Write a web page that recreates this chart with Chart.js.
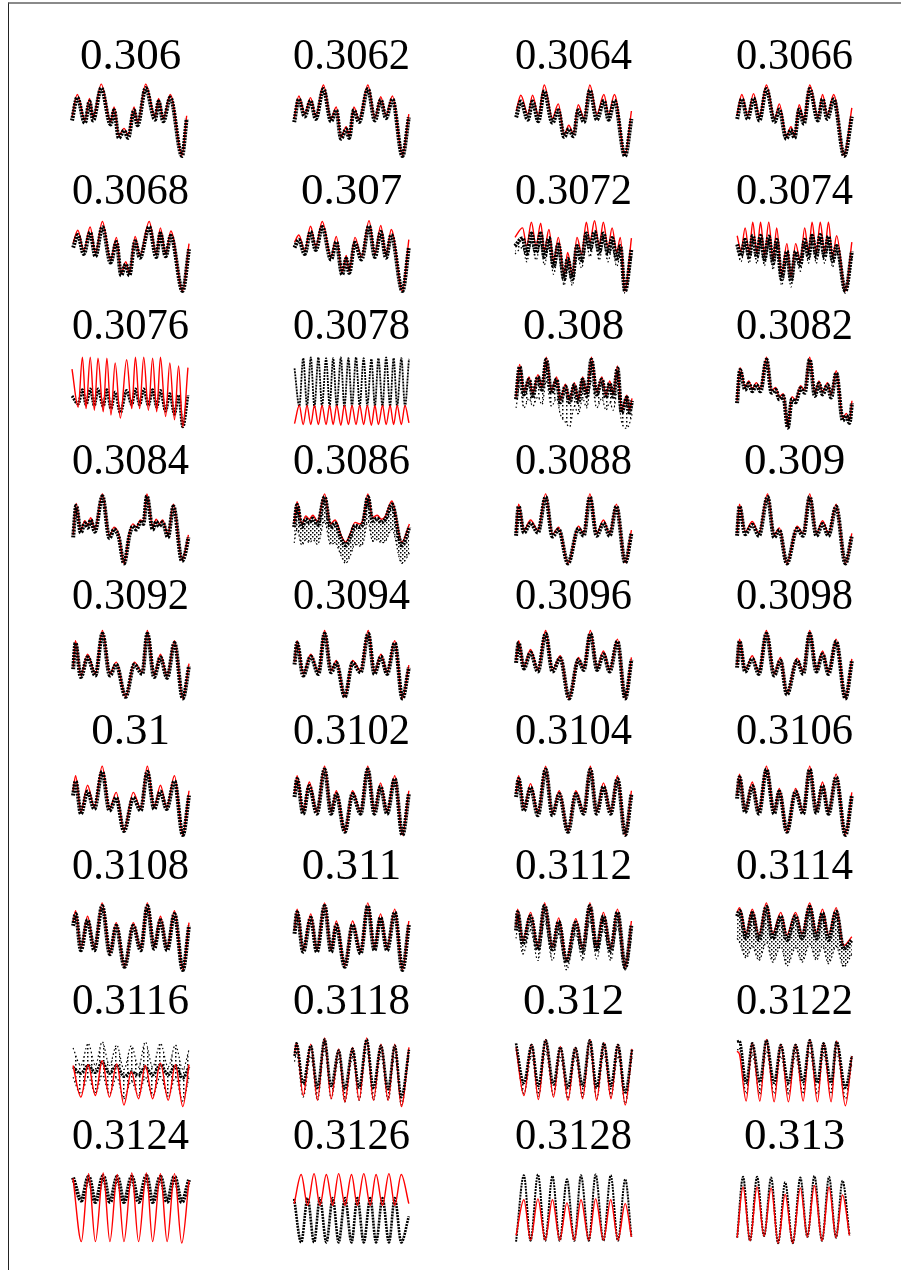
<!DOCTYPE html>
<html>
<head>
<meta charset="utf-8">
<script src="https://cdn.jsdelivr.net/npm/chart.js@4.4.1/dist/chart.umd.min.js"></script>
<style>
  html, body { margin: 0; padding: 0; background: #fff; }
  body { width: 901px; height: 1270px; position: relative; overflow: hidden; }
  #frame { position: absolute; left: 8px; top: 2px; right: 0; bottom: 0;
           border-left: 1px solid #222; border-top: 2px solid #8a8a8a; }
  canvas { position: absolute; }
</style>
</head>
<body>
<div id="frame"></div>
<script>
// Trial periods, one panel each (row by row)
const periods = ['0.306', '0.3062', '0.3064', '0.3066', '0.3068', '0.307', '0.3072', '0.3074',
  '0.3076', '0.3078', '0.308', '0.3082', '0.3084', '0.3086', '0.3088', '0.309',
  '0.3092', '0.3094', '0.3096', '0.3098', '0.31', '0.3102', '0.3104', '0.3106',
  '0.3108', '0.311', '0.3112', '0.3114', '0.3116', '0.3118', '0.312', '0.3122',
  '0.3124', '0.3126', '0.3128', '0.313'];

// phase_* : phase positions (0-100), model_* : fitted curve, flux_* : observed points,
// spread_* / upper_* : edges of the scattered observations
const phase_306 = [0, 4.5, 11, 15, 18, 25, 33, 36, 40, 44.5, 48, 53, 56, 63, 71, 74, 78, 84, 94, 98];
const model_306 = [54, 83, 50, 78, 53, 96, 48, 67, 31, 40, 31, 67, 47, 96, 54, 78, 52, 83, 6, 56];
const flux_306  = [50, 79, 47, 74, 50, 91, 45, 63, 28, 37, 28, 63, 44, 91, 51, 74, 49, 79, 5, 52];

const phase_3062 = [1, 5, 10, 15, 19.5, 26, 32.5, 37, 41, 45.5, 48, 52, 56.5, 64, 70, 75, 79.5, 85, 93.5, 99];
const model_3062 = [52, 81, 58, 79, 55, 95, 52, 67, 29, 42, 30, 67, 51, 95, 53, 80, 56, 81, 6, 58];
const flux_3062  = [48, 77, 55, 75, 52, 90, 49, 63, 27, 39, 28, 63, 48, 90, 50, 76, 53, 77, 5, 54];

const phase_3064 = [1, 5, 11, 15, 20, 25, 32, 37, 42, 46, 50, 54, 59, 64, 70, 76, 80, 85, 94, 99.5];
const model_3064 = [62, 82, 58, 82, 56, 95, 53, 71, 32, 44, 33, 70, 53, 95, 58, 83, 58, 83, 6, 62];
const flux_3064  = [54, 74, 51, 74, 49, 87, 47, 63, 29, 39, 30, 63, 48, 88, 51, 75, 51, 75, 5, 52];

const phase_3066 = [1, 5, 10, 15, 20, 26, 33, 37, 43, 47, 50, 54, 58, 63, 70, 74, 78, 83.5, 92.5, 99];
const model_3066 = [58, 83, 56, 84, 55, 95, 52, 71, 30, 42, 30, 70, 50, 95, 54, 83, 56, 83, 6, 66];
const flux_3066  = [52, 77, 52, 78, 50, 90, 48, 64, 27, 38, 28, 64, 46, 90, 50, 77, 52, 77, 5, 55];

const phase_3068 = [1, 5, 10, 15.5, 20, 26, 33, 38, 42, 46, 49, 54, 58, 66, 72, 75.5, 80, 84.5, 94.5, 100];
const model_3068 = [66, 82, 56, 86, 53, 93, 44, 73, 27, 42, 27, 74, 50, 93, 51, 85, 52, 81, 5, 65];
const flux_3068  = [60, 76, 52, 79, 49, 86, 41, 67, 25, 39, 25, 68, 47, 86, 48, 78, 49, 75, 5, 58];

const phase_307 = [1.3, 5, 10, 15, 19.5, 25, 32.5, 37, 42, 45.5, 48, 53, 58.5, 65, 70, 75, 79.5, 84, 93.5, 99];
const model_307 = [67, 76, 56, 87, 62, 93, 48, 74, 28, 50, 30, 73, 48, 94, 52, 88, 50, 83, 5, 70];
const flux_307  = [60, 70, 52, 80, 57, 86, 45, 67, 26, 46, 28, 66, 45, 87, 48, 80, 47, 76, 5, 60];

const phase_3072  = [0, 6.5, 10, 14, 18, 22, 25, 29, 33, 37, 42, 45, 49, 53, 57, 61, 64, 68, 72, 75.5, 79.5, 83, 87, 90, 94, 99.5];
const model_3072  = [73, 85, 62, 92, 62, 91, 56, 83, 42, 73, 25, 54, 25, 73, 52, 92, 67, 94, 62, 92, 60, 85, 54, 73, 5, 72];
const flux_3072   = [62, 72, 52, 78, 54, 78, 48, 72, 36, 64, 20, 46, 20, 62, 44, 78, 58, 80, 54, 78, 52, 72, 46, 62, 5, 58];
const spread_3072 = [52, 60, 42, 66, 44, 66, 38, 60, 26, 52, 12, 36, 12, 50, 34, 66, 48, 68, 44, 66, 42, 60, 36, 50, 2, 48];

const phase_3074  = [1, 4.3, 7.8, 11.3, 14.3, 17.8, 21, 24.3, 28, 31.7, 34.8, 39, 43.5, 47, 51, 55, 58.7, 62, 65, 68.7, 72, 75.7, 79, 82.6, 86, 93.5, 99];
const model_3074  = [75, 56, 85, 53, 92, 53, 92, 50, 92, 44, 85, 25, 65, 23, 65, 42, 85, 53, 92, 53, 92, 53, 92, 48, 75, 5, 67];
const flux_3074   = [64, 50, 70, 48, 75, 48, 75, 45, 74, 40, 70, 20, 55, 18, 55, 38, 70, 48, 75, 48, 76, 48, 74, 43, 62, 5, 55];
const spread_3074 = [56, 42, 62, 40, 67, 40, 67, 37, 66, 32, 62, 12, 47, 10, 47, 30, 62, 40, 67, 40, 68, 40, 66, 35, 54, 2, 47];

const phase_3076 = [0, 5.3, 8.9, 12, 15.6, 19.1, 22.2, 26.7, 29.8, 33.3, 36.9, 41.3, 46.7, 51.1, 54.2, 57.8, 61.3, 65.3, 68.9, 72.4, 75.6, 80, 83.6, 87.6, 91.1, 94.7, 99.1];
const model_3076 = [77, 29, 92, 27, 92, 25, 91, 23, 91, 19, 85, 15, 89, 27, 92, 27, 92, 25, 91, 23, 92, 17, 85, 13, 81, 4, 79];
const flux_3076  = [43, 33, 51, 32, 52, 31, 52, 30, 51, 27, 48, 22, 50, 32, 52, 32, 52, 31, 51, 29, 50, 24, 46, 20, 44, 4, 44];

const phase_3078 = [1.3, 5.4, 8.7, 12, 15.2, 18.3, 21.7, 24.8, 28.3, 31.3, 34.3, 37.4, 40.9, 43.9, 47.4, 50.4, 53.9, 57, 60.4, 63.5, 67, 70, 73, 76.5, 79.6, 83, 86, 89, 92.6, 95.7, 99.1];
const model_3078 = [8, 31, 7, 31, 7, 31, 7, 31, 7, 31, 7, 31, 6, 31, 7, 31, 7, 31, 7, 31, 6, 31, 7, 31, 7, 31, 7, 31, 7, 31, 9];
const flux_3078  = [78, 30, 91, 30, 92, 29, 92, 30, 91, 30, 91, 30, 92, 29, 91, 30, 92, 30, 91, 31, 90, 30, 91, 30, 92, 30, 91, 30, 91, 30, 90];

const phase_308  = [0.9, 4, 7.6, 12, 15.1, 19.6, 23.1, 26.7, 31.1, 35.6, 38.7, 43.1, 46.7, 50.7, 54.2, 57.8, 61.3, 65.3, 69.8, 74.2, 77.8, 80.9, 84, 87.6, 91.1, 95.6, 97.8, 100];
const model_308  = [42, 83, 48, 67, 46, 70, 54, 92, 50, 67, 38, 58, 38, 60, 38, 67, 46, 92, 48, 67, 44, 62, 45, 81, 25, 44, 25, 40];
const flux_308   = [39, 80, 45, 64, 43, 67, 51, 89, 47, 64, 35, 55, 35, 57, 35, 64, 43, 89, 45, 64, 41, 59, 42, 78, 22, 41, 22, 37];
const spread_308 = [28, 55, 28, 40, 30, 42, 32, 62, 30, 40, 20, 10, 4, 30, 20, 40, 28, 62, 28, 40, 25, 35, 25, 50, 10, 2, 8, 20];

const phase_3082 = [0.9, 3.5, 7.8, 10.9, 13.9, 17.4, 20.9, 26.1, 30.4, 33.9, 37, 40.4, 44.3, 47.8, 50.9, 55.2, 58.7, 63, 67.4, 70.9, 73.9, 78.3, 81.3, 85.7, 91.3, 94.3, 97, 99.1];
const model_3082 = [37, 79, 54, 62, 52, 60, 52, 92, 50, 54, 42, 46, 4, 42, 38, 56, 50, 92, 46, 62, 48, 60, 44, 75, 15, 21, 12, 37];
const flux_3082  = [34, 76, 51, 59, 49, 57, 49, 89, 47, 51, 39, 43, 3, 39, 35, 53, 47, 89, 43, 59, 45, 57, 41, 72, 12, 18, 9, 34];

const phase_3084 = [1, 3.6, 7.5, 11, 13.5, 16, 19.5, 26, 32, 36, 40, 44.5, 49, 52, 55, 58.5, 61, 64, 69, 72, 74.5, 77.5, 82, 86.7, 94, 96.5, 99.5];
const model_3084 = [38, 78, 44, 56, 50, 60, 45, 90, 37, 48, 38, 2, 40, 52, 48, 57, 55, 90, 48, 58, 52, 57, 38, 77, 6, 16, 38];
const flux_3084  = [35, 75, 41, 53, 47, 57, 42, 87, 34, 45, 35, 2, 37, 49, 45, 54, 52, 87, 45, 55, 49, 54, 35, 74, 5, 13, 35];

const phase_3086  = [1, 3.5, 7.5, 11, 14, 17, 21, 27, 32, 36, 41, 45, 49, 53, 57, 60, 64, 68, 72, 75.5, 79, 84.5, 93, 99.5];
const model_3086  = [52, 80, 52, 62, 58, 63, 55, 90, 52, 57, 38, 29, 40, 54, 52, 58, 90, 60, 63, 58, 62, 81, 29, 52];
const flux_3086   = [48, 76, 48, 58, 54, 59, 51, 86, 48, 53, 34, 25, 36, 50, 48, 54, 86, 56, 59, 54, 58, 77, 25, 48];
const spread_3086 = [28, 45, 25, 32, 28, 32, 26, 55, 26, 28, 12, 2, 12, 26, 24, 28, 55, 30, 32, 28, 30, 45, 2, 15];

const phase_3088 = [0.9, 3.1, 7.6, 13.3, 19.6, 26.2, 32, 37.3, 45.3, 54.2, 58.7, 64, 69.8, 75.6, 80.9, 86.7, 94.2, 99.5];
const model_3088 = [40, 77, 44, 57, 44, 90, 39, 48, 2, 49, 40, 90, 40, 57, 40, 77, 3, 44];
const flux_3088  = [37, 74, 41, 53, 41, 86, 36, 45, 2, 46, 37, 86, 37, 53, 37, 74, 3, 40];

const phase_309 = [0.9, 3, 7.8, 13.9, 19.6, 27, 32.6, 37, 43.5, 52.2, 57.4, 63, 68.7, 74, 79, 85.6, 93.5, 99];
const model_309 = [40, 77, 42, 55, 40, 90, 38, 47, 2, 49, 40, 90, 40, 56, 40, 77, 2, 40];
const flux_309  = [37, 74, 39, 51, 37, 86, 35, 44, 2, 46, 37, 86, 37, 52, 37, 74, 2, 37];

const phase_3092 = [1, 3, 7.5, 13.3, 20, 26, 32.4, 37.8, 45.8, 53.3, 60, 64.4, 70.2, 75.6, 81.3, 87.6, 94.7, 100];
const model_3092 = [42, 75, 31, 58, 33, 88, 33, 48, 4, 48, 35, 88, 31, 58, 30, 75, 2, 46];
const flux_3092  = [39, 72, 29, 54, 31, 84, 31, 45, 4, 45, 33, 84, 29, 54, 28, 72, 2, 43];

const phase_3094 = [1.3, 3.5, 8.7, 15.2, 21.7, 27, 32.6, 37, 44.3, 50.9, 57.8, 64.3, 69.6, 75.2, 80.4, 87, 93.5, 99];
const model_3094 = [48, 75, 33, 58, 35, 88, 37, 50, 4, 50, 37, 88, 35, 58, 35, 75, 2, 44];
const flux_3094  = [45, 72, 31, 55, 33, 84, 35, 47, 4, 47, 35, 84, 33, 55, 33, 72, 2, 41];

const phase_3096 = [0.9, 3.1, 7.6, 13.3, 19.6, 26.2, 32, 38.7, 46.2, 54.2, 58.7, 64.4, 70.2, 75.6, 80.9, 87.6, 94.2, 99.5];
const model_3096 = [50, 75, 42, 64, 38, 88, 38, 56, 2, 54, 40, 88, 40, 62, 38, 77, 2, 54];
const flux_3096  = [47, 72, 40, 60, 36, 84, 36, 53, 2, 51, 38, 84, 38, 58, 36, 74, 2, 51];

const phase_3098 = [0.9, 3, 7.8, 13.9, 19.6, 26, 32.6, 38, 43.5, 52.2, 57.4, 63, 68.7, 74, 79, 85.6, 93.5, 99];
const model_3098 = [44, 77, 38, 56, 35, 88, 33, 54, 8, 53, 35, 88, 38, 62, 35, 77, 2, 52];
const flux_3098  = [41, 74, 36, 52, 33, 84, 31, 50, 7, 50, 33, 84, 36, 58, 33, 74, 2, 49];

const phase_310 = [0.9, 3.1, 7.6, 13.3, 19.1, 25.8, 32, 37.8, 44.4, 52.4, 58.7, 64.4, 70.2, 75.6, 80.9, 87.6, 94.7, 100];
const model_310 = [56, 75, 29, 63, 35, 87, 33, 54, 6, 54, 33, 87, 35, 63, 35, 75, 0, 56];
const flux_310  = [50, 68, 27, 55, 33, 80, 31, 47, 5, 47, 31, 80, 33, 55, 33, 68, 0, 50];

const phase_3102 = [1.3, 3.5, 8.7, 13.9, 20.4, 27, 32.6, 37, 44.3, 50.9, 57.8, 63.9, 69.6, 74.8, 80.4, 87, 93.5, 99];
const model_3102 = [52, 75, 29, 67, 29, 87, 29, 56, 5, 56, 29, 87, 29, 66, 29, 75, 0, 56];
const flux_3102  = [48, 71, 27, 62, 27, 83, 27, 52, 4, 52, 27, 83, 27, 61, 27, 71, 0, 52];

const phase_3104 = [0.9, 3.1, 7.6, 13.3, 19.6, 26.2, 32, 37.8, 45.3, 52, 58.7, 64.4, 69.8, 75.6, 81.8, 87.6, 94.2, 99.5];
const model_3104 = [52, 75, 33, 65, 27, 87, 27, 56, 5, 56, 29, 87, 29, 66, 29, 75, 0, 56];
const flux_3104  = [48, 71, 31, 60, 25, 83, 25, 52, 4, 52, 27, 83, 27, 61, 27, 71, 0, 52];

const phase_3106 = [0.9, 3, 7.8, 13.9, 19.6, 26, 32.6, 37, 43.5, 50.9, 57.4, 63, 68.7, 73.9, 79.1, 85.6, 93.5, 99];
const model_3106 = [50, 77, 31, 67, 29, 87, 29, 59, 4, 59, 29, 87, 30, 67, 29, 77, 0, 54];
const flux_3106  = [46, 73, 29, 62, 27, 83, 27, 55, 4, 55, 27, 83, 28, 62, 27, 73, 0, 50];

const phase_3108 = [0.9, 3.1, 7.6, 13.3, 19.1, 25.8, 32.4, 37.8, 44.9, 52.4, 58.7, 64.4, 70.2, 75.6, 81.3, 87.6, 94.7, 100];
const model_3108 = [60, 75, 27, 68, 27, 85, 21, 60, 4, 60, 27, 85, 29, 68, 27, 75, 0, 60];
const flux_3108  = [56, 71, 25, 63, 25, 81, 20, 56, 4, 56, 25, 81, 27, 63, 25, 71, 0, 56];

const phase_311 = [1.3, 3.5, 8.7, 15.2, 20.4, 27, 32.6, 37, 44.3, 50.9, 57.8, 63.9, 69.6, 74.8, 80.4, 87, 93.5, 99];
const model_311 = [50, 77, 25, 71, 25, 85, 25, 62, 5, 62, 23, 85, 27, 71, 27, 77, 0, 62];
const flux_311  = [46, 73, 23, 66, 23, 81, 23, 57, 4, 57, 21, 81, 25, 66, 25, 73, 0, 57];

const phase_3112  = [0.9, 2.2, 6.7, 13.3, 19.6, 25.3, 32, 37.3, 44, 52, 57.8, 64, 69.8, 75.6, 81.8, 87.6, 94.2, 99.5];
const model_3112  = [54, 77, 37, 73, 29, 85, 29, 66, 12, 65, 27, 85, 29, 73, 27, 77, 4, 62];
const flux_3112   = [50, 73, 33, 68, 26, 81, 26, 61, 10, 60, 24, 81, 26, 68, 24, 73, 3, 57];
const spread_3112 = [40, 55, 20, 50, 12, 62, 12, 45, 0, 45, 12, 62, 14, 50, 12, 55, 0, 40];

const phase_3114  = [0.9, 3, 8.7, 13.9, 19.6, 26, 31.3, 38.3, 43.5, 50.9, 56.5, 63, 68.7, 73.9, 79.1, 85.6, 92, 99];
const model_3114  = [73, 79, 46, 77, 44, 85, 46, 73, 44, 73, 46, 85, 46, 77, 44, 79, 31, 42];
const flux_3114   = [68, 75, 40, 72, 38, 80, 40, 68, 38, 68, 40, 80, 40, 72, 38, 74, 27, 38];
const spread_3114 = [40, 35, 15, 30, 12, 35, 10, 30, 5, 28, 10, 33, 12, 30, 8, 30, 4, 20];

const phase_3116  = [0.9, 7.6, 13.8, 20, 25.8, 32, 38.2, 44.4, 50.7, 56.9, 62.7, 68.9, 75.6, 82.2, 88.4, 94.7, 100];
const model_3116  = [50, 10, 51, 12, 56, 10, 52, 0, 42, 8, 50, 8, 53, 6, 51, -2, 51];
const flux_3116   = [48, 40, 50, 41, 54, 40, 50, 36, 42, 38, 48, 38, 51, 38, 50, 34, 48];
const upper_3116  = [72, 50, 78, 50, 80, 50, 76, 45, 75, 48, 80, 48, 78, 48, 76, 45, 70];
const spread_3116 = [35, 14, 35, 15, 38, 14, 35, 8, 30, 12, 35, 12, 36, 10, 35, 5, 35];

const phase_3118  = [1.3, 3, 8.7, 15.2, 20.9, 27, 32.6, 39.1, 44.3, 50.9, 56.5, 63, 68.7, 75.2, 81.3, 87, 92.6, 99.1];
const model_3118  = [65, 79, 12, 77, 6, 85, 8, 71, 4, 73, 6, 85, 6, 77, 6, 77, -2, 73];
const flux_3118   = [62, 78, 27, 75, 22, 83, 24, 69, 20, 71, 22, 83, 22, 75, 20, 75, 10, 70];
const spread_3118 = [55, 65, 10, 62, 6, 70, 8, 58, 4, 60, 6, 70, 6, 62, 6, 62, 0, 60];

const phase_312  = [0.9, 7.6, 14.2, 20, 26.2, 32.9, 38.7, 45.3, 51.6, 57.8, 64, 69.8, 76, 82, 88, 94.2, 100];
const model_312  = [73, 12, 77, 7, 83, 10, 74, 6, 73, 8, 83, 6, 79, 8, 77, 0, 71];
const flux_312   = [78, 28, 76, 24, 82, 26, 73, 22, 72, 24, 82, 22, 78, 24, 76, 16, 70];
const spread_312 = [70, 14, 62, 10, 68, 12, 60, 8, 60, 10, 68, 8, 64, 10, 62, 2, 60];

const phase_3122  = [0.9, 3, 8.7, 13.9, 20.4, 26, 32.6, 38.3, 44.8, 50.9, 57.4, 63, 69.6, 74.8, 81.3, 86, 93.5, 99];
const model_3122  = [68, 64, 5, 79, 5, 83, 4, 77, 4, 77, 5, 83, 4, 79, 4, 81, -1, 62];
const flux_3122   = [80, 81, 28, 78, 29, 82, 28, 76, 28, 76, 29, 82, 28, 78, 28, 80, 22, 62];
const spread_3122 = [70, 70, 14, 64, 14, 68, 14, 62, 14, 62, 14, 68, 14, 64, 14, 66, 8, 52];

const phase_3124 = [0.9, 8, 14.2, 20, 26.7, 32.4, 38.7, 44.4, 51.1, 56.9, 63.6, 68.9, 75.6, 81.3, 87.6, 93.8, 100];
const model_3124 = [78, -2, 84, -2, 85, -2, 83, -2, 85, -2, 85, -2, 84, -2, 84, -4, 75];
const flux_3124  = [79, 50, 80, 48, 81, 48, 80, 48, 80, 48, 81, 48, 80, 48, 80, 48, 76];

const phase_3126 = [1, 7, 12.5, 18, 23, 28.5, 34, 39, 44.5, 50, 55, 60.5, 66, 71, 76.5, 82, 87, 92.5, 99];
const model_3126 = [46, 83, 44, 84, 44, 83, 44, 84, 44, 83, 44, 84, 44, 83, 44, 84, 44, 83, 46];
const flux_3126  = [52, -3, 53, -3, 53, -3, 53, -3, 53, -3, 53, -3, 53, -3, 53, -3, 53, -3, 30];

const phase_3128 = [0.9, 7.6, 13.3, 19.6, 25.8, 32, 38.2, 44.4, 50.7, 56.4, 63.1, 68.9, 75.6, 81.8, 88, 94.2, 99.5];
const model_3128 = [6, 51, 0, 52, 0, 51, 0, 47, 0, 51, 0, 52, 0, 51, 0, 46, 4];
const flux_3128  = [-2, 82, -1, 83, -1, 81, -1, 77, -1, 82, -1, 83, -1, 82, -1, 77, 4];

const phase_313 = [1, 6, 12, 18, 24, 30, 36, 42, 48.5, 55, 61, 67, 73.5, 79.5, 85.5, 91, 97];
const model_313 = [3, 67, -1, 67, 5, 66, -4, 58, -4, 66, 4, 69, -1, 67, 3, 57, 6];
const flux_313  = [3, 80, -1, 80, 5, 79, -4, 73, -4, 79, 4, 81, -1, 80, 3, 75, 6];

// Panel table assembled from the arrays above
const panels = [
  [phase_306, model_306, flux_306], [phase_3062, model_3062, flux_3062],
  [phase_3064, model_3064, flux_3064], [phase_3066, model_3066, flux_3066],
  [phase_3068, model_3068, flux_3068], [phase_307, model_307, flux_307],
  [phase_3072, model_3072, flux_3072, spread_3072], [phase_3074, model_3074, flux_3074, spread_3074],
  [phase_3076, model_3076, flux_3076], [phase_3078, model_3078, flux_3078],
  [phase_308, model_308, flux_308, spread_308], [phase_3082, model_3082, flux_3082],
  [phase_3084, model_3084, flux_3084], [phase_3086, model_3086, flux_3086, spread_3086],
  [phase_3088, model_3088, flux_3088], [phase_309, model_309, flux_309],
  [phase_3092, model_3092, flux_3092], [phase_3094, model_3094, flux_3094],
  [phase_3096, model_3096, flux_3096], [phase_3098, model_3098, flux_3098],
  [phase_310, model_310, flux_310], [phase_3102, model_3102, flux_3102],
  [phase_3104, model_3104, flux_3104], [phase_3106, model_3106, flux_3106],
  [phase_3108, model_3108, flux_3108], [phase_311, model_311, flux_311],
  [phase_3112, model_3112, flux_3112, spread_3112], [phase_3114, model_3114, flux_3114, spread_3114],
  [phase_3116, model_3116, flux_3116, spread_3116, upper_3116], [phase_3118, model_3118, flux_3118, spread_3118],
  [phase_312, model_312, flux_312, spread_312], [phase_3122, model_3122, flux_3122, spread_3122],
  [phase_3124, model_3124, flux_3124], [phase_3126, model_3126, flux_3126],
  [phase_3128, model_3128, flux_3128], [phase_313, model_313, flux_313]
];

// line weight of the observed points where they are finely sampled
const thinPoints = { '0.3078': 1.8, '0.3128': 2, '0.313': 2, '0.3126': 2.6, '0.3076': 3,
  '0.3118': 2.6, '0.312': 2.6, '0.3122': 2.6, '0.3116': 3 };
// panels whose scatter is dense
const denseScatter = new Set(['0.3086', '0.3114']);
// panels where the fitted curve is drawn over the observations
const modelOnTop = new Set(['0.3076', '0.3078', '0.3116', '0.3124', '0.3126', '0.3128', '0.313']);

// speckle textures for the scattered observations
function speckle(dense) {
  const c = document.createElement('canvas');
  c.width = 4; c.height = 4;
  const g = c.getContext('2d');
  g.fillStyle = '#000';
  g.fillRect(0, 0, 1.5, 1.5);
  if (dense) g.fillRect(2, 2, 1.5, 1.5);
  return g.createPattern(c, 'repeat');
}
const denseDots = speckle(true);
const sparseDots = speckle(false);

const pts = (xs, ys) => xs.map((x, i) => ({ x: x, y: ys[i] }));

panels.forEach((p, k) => {
  const [phase, model, flux, spread, upper] = p;
  const name = periods[k];
  const col = k % 4, row = Math.floor(k / 4);
  const cv = document.createElement('canvas');
  cv.width = 215; cv.height = 135;
  cv.style.left = Math.round(23 + 221.3 * col) + 'px';
  cv.style.top = (31 + 135 * row) + 'px';
  document.body.appendChild(cv);

  const texture = denseScatter.has(name) ? denseDots : sparseDots;
  const redOrder = modelOnTop.has(name) ? 0 : 2;
  const datasets = [
    { data: pts(phase, model), borderColor: '#ff0000', borderWidth: 1.4, order: redOrder, clip: false },
    { data: pts(phase, flux), borderColor: '#000', borderWidth: thinPoints[name] || 4,
      borderDash: [2, 1], order: 1, clip: false }
  ];
  if (spread && upper) {
    datasets.push({ data: pts(phase, upper), borderColor: '#000', borderWidth: 1.2, borderDash: [1.5, 2.5],
      order: 3, clip: false, fill: 3, backgroundColor: texture });
    datasets.push({ data: pts(phase, spread), borderColor: '#000', borderWidth: 1.2, borderDash: [1.5, 2.5],
      order: 4, clip: false });
  } else if (spread) {
    datasets.push({ data: pts(phase, spread), borderColor: '#000', borderWidth: 1.2, borderDash: [1.5, 2.5],
      order: 3, clip: false, fill: 1, backgroundColor: texture });
  }

  new Chart(cv, {
    type: 'line',
    data: { datasets: datasets },
    options: {
      responsive: false,
      animation: false,
      devicePixelRatio: 1,
      layout: { padding: { left: 49, right: 49, top: 0, bottom: 6 } },
      elements: { point: { radius: 0 }, line: { cubicInterpolationMode: 'monotone', fill: false } },
      plugins: {
        legend: { display: false },
        tooltip: { enabled: false },
        title: {
          display: true, text: name, color: '#000',
          font: { family: "'Liberation Serif', 'Times New Roman', serif", size: 45, weight: 'normal', lineHeight: 1 },
          padding: { top: 4, bottom: 1 }
        }
      },
      scales: {
        x: { type: 'linear', min: 0, max: 100, display: false },
        y: { min: 0, max: 100, display: false }
      }
    }
  });
});
</script>
</body>
</html>
